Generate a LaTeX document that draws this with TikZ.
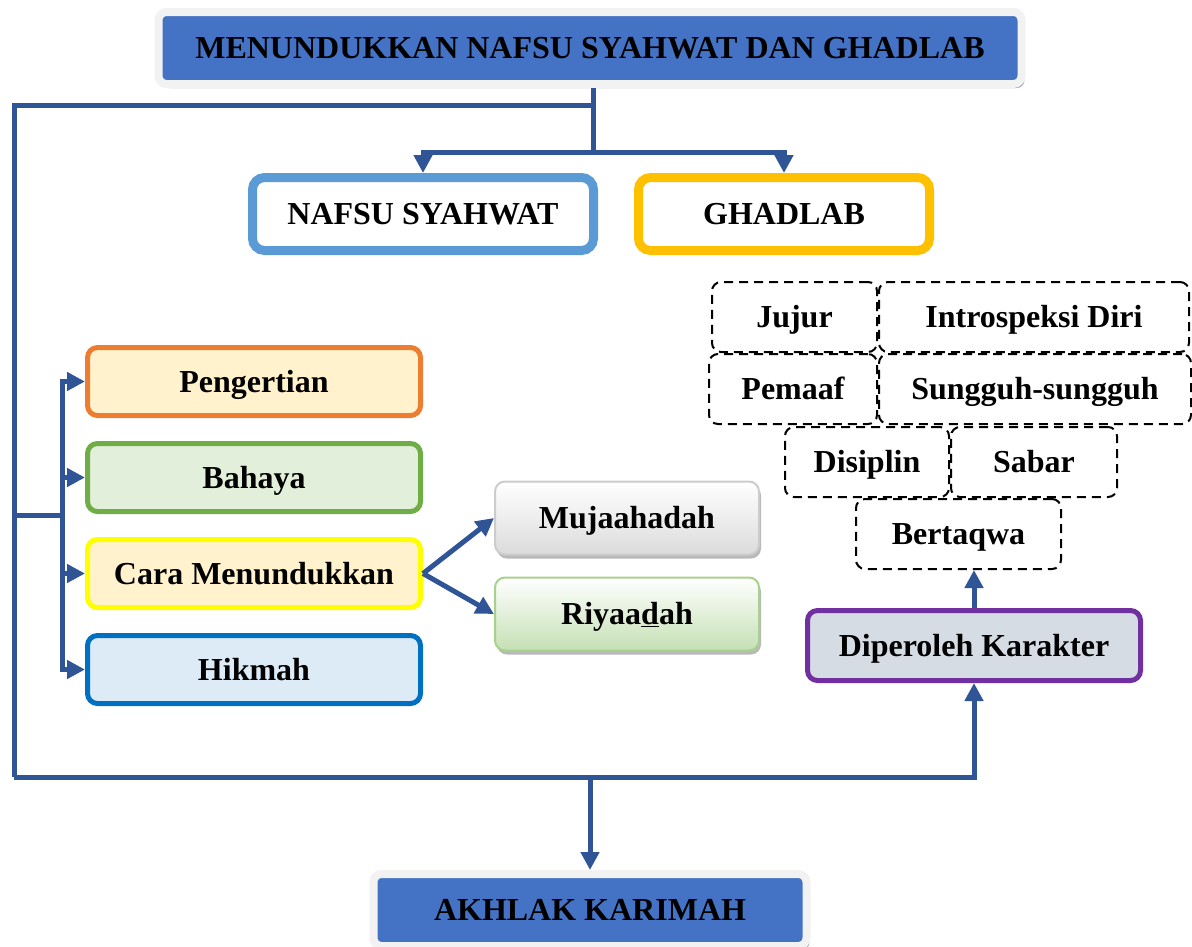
\documentclass[tikz,border=0pt]{standalone}
\usepackage{fontspec}
\setmainfont{Liberation Serif}
\usepackage{xcolor}
\usepackage{tikz}
\usetikzlibrary{arrows.meta,shapes,positioning,shadows}

\definecolor{garis}{HTML}{2F5597}
\definecolor{biru}{HTML}{4472C4}
\definecolor{bayang}{HTML}{8E9AAF}
\definecolor{birumuda}{HTML}{5B9BD5}
\definecolor{emas}{HTML}{FFC000}
\definecolor{oranye}{HTML}{ED7D31}
\definecolor{krem}{HTML}{FFF2CC}
\definecolor{hijau}{HTML}{70AD47}
\definecolor{hijaumuda}{HTML}{E2EFDA}
\definecolor{kuning}{HTML}{FFFF00}
\definecolor{birutua}{HTML}{0070C0}
\definecolor{biruterang}{HTML}{DDEBF7}
\definecolor{ungu}{HTML}{7030A0}
\definecolor{abu}{HTML}{D6DCE4}
\definecolor{hijaurumput}{HTML}{A9D18E}
\definecolor{hijaugradasi}{HTML}{C5E0B4}

\begin{document}
\begin{tikzpicture}[
    x=1pt, y=-1pt,
    font=\fontsize{32}{38}\selectfont\bfseries,
    every node/.style={text height=26pt, text depth=5pt},
    garisan/.style={draw=garis, line width=5pt},
    panah/.style={garisan, -{Triangle[length=18pt,width=18pt]}},
    judulbox/.style={rectangle, rounded corners=8pt, draw=gray!10, line width=8pt, fill=biru, minimum height=72pt,
      drop shadow={shadow xshift=3pt, shadow yshift=-4pt, fill=bayang, opacity=1}},
    bingkai/.style={rectangle, rounded corners=12pt, line width=9pt, fill=white, minimum width=341pt, minimum height=73pt},
    materi/.style={rectangle, rounded corners=10pt, line width=5pt, minimum width=333pt, minimum height=68pt},
    cara/.style={rectangle, rounded corners=10pt, line width=2pt, minimum width=264pt, minimum height=73pt,
      drop shadow={shadow xshift=2pt, shadow yshift=-4pt, fill=gray!55, opacity=1}},
    sifat/.style={rectangle, rounded corners=9pt, draw, line width=2pt, dash pattern=on 9pt off 6pt, minimum height=70pt}
  ]
    \useasboundingbox (0,0) rectangle (1192,946);

    % Nodes
    \node[judulbox, minimum width=863pt] (judul) at (590,48) {MENUNDUKKAN NAFSU SYAHWAT DAN GHADLAB};

    \node[bingkai, draw=birumuda] (nafsu) at (423,214) {NAFSU SYAHWAT};
    \node[bingkai, draw=emas, minimum width=291pt] (ghadlab) at (784,214) {GHADLAB};

    \node[materi, draw=oranye, fill=krem] (pengertian) at (254,381.5) {Pengertian};
    \node[materi, draw=hijau, fill=hijaumuda, below=23pt of pengertian] (bahaya) {Bahaya};
    \node[materi, draw=kuning, fill=krem, below=23pt of bahaya] (menunduk) {Cara Menundukkan};
    \node[materi, draw=birutua, fill=biruterang, below=23pt of menunduk] (hikmah) {Hikmah};

    \node[cara, draw=gray!40, top color=white, bottom color=gray!28] (mujahadah) at (627,518) {Mujaahadah};
    \node[cara, draw=hijaurumput, top color=white, bottom color=hijaugradasi, below=21pt of mujahadah] (riyadah) {Riyaa\underline{d}ah};

    \node[sifat, minimum width=165pt] (jujur) at (794.5,317) {Jujur};
    \node[sifat, minimum width=310pt, right=0pt of jujur] (introspeksi) {Introspeksi Diri};
    \node[sifat, minimum width=168pt] (pemaaf) at (793,389) {Pemaaf};
    \node[sifat, minimum width=312pt, right=0pt of pemaaf] (sungguh) {Sungguh-sungguh};
    \node[sifat, minimum width=164pt] (disiplin) at (867,462) {Disiplin};
    \node[sifat, minimum width=166pt, right=0pt of disiplin] (sabar) {Sabar};
    \node[sifat, minimum width=205pt] (bertaqwa) at (958.5,534) {Bertaqwa};

    \node[materi, draw=ungu, fill=abu, minimum height=70pt] (karakter) at (974,645.5) {Diperoleh Karakter};

    \node[judulbox, minimum width=433pt] (akhlak) at (590,910) {AKHLAK KARIMAH};

    % inner lines of the framed boxes
    \foreach \n/\c in {nafsu/birumuda, ghadlab/emas}
      \draw[\c, line width=2pt, rounded corners=6pt] ([shift={(7,7)}]\n.north west) rectangle ([shift={(-7,-7)}]\n.south east);

    % Junctions
    \coordinate (cabang) at (593,152);
    \coordinate (kiriatas) at (14,105);
    \coordinate (kiribawah) at (14,777);
    \coordinate (cabangkiri) at (62,515);

    % Arrows
    \draw[garisan] (cabang |- judul.south) -- (cabang);
    \draw[panah] (cabang) -| (nafsu.north);
    \draw[panah] (cabang) -| (ghadlab.north);
    \draw[garisan] (cabang |- kiriatas) -- (kiriatas) -- (kiribawah);
    \draw[panah] (kiribawah) -| (karakter.south);
    \draw[panah] (akhlak.north |- kiribawah) -- (akhlak.north);
    \draw[garisan] (kiriatas |- cabangkiri) -- (cabangkiri);
    \foreach \b in {pengertian, bahaya, menunduk, hikmah}
      \draw[panah] (cabangkiri) |- (\b.west);
    \draw[panah] (menunduk.east) -- (mujahadah.west);
    \draw[panah] (menunduk.east) -- (riyadah.west);
    \draw[panah] (karakter.north) -- (karakter.north |- bertaqwa.south);
  \end{tikzpicture}
\end{document}
